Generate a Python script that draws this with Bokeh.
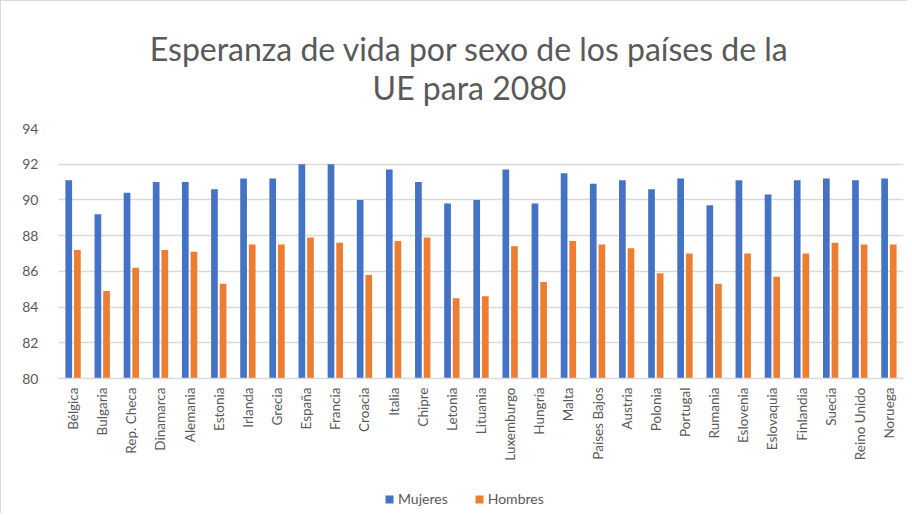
from bokeh.plotting import figure
from bokeh.layouts import column
from bokeh.models import (ColumnDataSource, FactorRange, Legend, LegendItem, Label,
                          SingleIntervalTicker)
from bokeh.transform import dodge
from bokeh.embed import file_html
from bokeh.resources import INLINE
from math import pi

paises = ["Bélgica", "Bulgaria", "Rep. Checa", "Dinamarca", "Alemania", "Estonia",
          "Irlanda", "Grecia", "España", "Francia", "Croacia", "Italia", "Chipre",
          "Letonia", "Lituania", "Luxemburgo", "Hungría", "Malta", "Países Bajos",
          "Austria", "Polonia", "Portugal", "Rumania", "Eslovenia", "Eslovaquia",
          "Finlandia", "Suecia", "Reino Unido", "Noruega"]
mujeres = [91.1, 89.2, 90.4, 91.0, 91.0, 90.6, 91.2, 91.2, 92.0, 92.0, 90.0, 91.7, 91.0,
           89.8, 90.0, 91.7, 89.8, 91.5, 90.9, 91.1, 90.6, 91.2, 89.7, 91.1, 90.3,
           91.1, 91.2, 91.1, 91.2]
hombres = [87.2, 84.9, 86.2, 87.2, 87.1, 85.3, 87.5, 87.5, 87.9, 87.6, 85.8, 87.7, 87.9,
           84.5, 84.6, 87.4, 85.4, 87.7, 87.5, 87.3, 85.9, 87.0, 85.3, 87.0, 85.7,
           87.0, 87.6, 87.5, 87.5]
titulo = ["Esperanza de vida por sexo de los países de la", "UE para 2080"]

BLUE = "#4472C4"
ORANGE = "#ED7D31"
GRID = "#d9d9d9"
TXT = "#595959"
FONT = "Lato"
W = 906

# ---- title strip (frame is aligned with the chart frame by the column) ----
pt = figure(width=W, height=110, x_range=(0, 845), y_range=(0, 110),
            output_backend="svg", toolbar_location=None,
            x_axis_type=None, y_axis_type=None,
            min_border=0, min_border_left=0, min_border_right=0,
            min_border_top=0, min_border_bottom=0)
pt.outline_line_color = None
pt.grid.visible = False
for t, yy in zip(titulo, [63, 24]):
    pt.add_layout(Label(x=411, y=yy, text=t, text_align="center",
                        text_baseline="middle", text_font=FONT,
                        text_font_size="32px", text_color=TXT))

# ---- main chart ----
src = ColumnDataSource(dict(pais=paises, mujeres=mujeres, hombres=hombres))

p = figure(width=W, height=372, x_range=FactorRange(*paises), y_range=(80, 94),
           output_backend="svg", toolbar_location=None,
           min_border_left=57, min_border_right=4, min_border_top=17,
           min_border_bottom=105)

r1 = p.vbar(x=dodge("pais", -0.148, range=p.x_range), top="mujeres", bottom=80,
            width=0.23, source=src, fill_color=BLUE, line_color=None)
r2 = p.vbar(x=dodge("pais", 0.148, range=p.x_range), top="hombres", bottom=80,
            width=0.23, source=src, fill_color=ORANGE, line_color=None)

p.outline_line_color = None
p.xgrid.grid_line_color = None
p.ygrid.grid_line_color = GRID
p.ygrid.grid_line_width = 1.3
p.yaxis.ticker = SingleIntervalTicker(interval=2)
p.yaxis.axis_line_color = None
p.yaxis.major_tick_line_color = None
p.yaxis.minor_tick_line_color = None
p.yaxis.major_tick_out = 0
p.yaxis.major_label_text_font = FONT
p.yaxis.major_label_text_font_size = "14px"
p.yaxis.major_label_text_color = TXT
p.yaxis.major_label_standoff = 16

p.xaxis.axis_line_color = GRID
p.xaxis.axis_line_width = 1.3
p.xaxis.major_tick_line_color = None
p.xaxis.minor_tick_line_color = None
p.xaxis.major_tick_out = 0
p.xaxis.major_label_orientation = pi / 2
p.xaxis.major_label_text_font = FONT
p.xaxis.major_label_text_font_size = "13.5px"
p.xaxis.major_label_text_color = TXT
p.xaxis.major_label_standoff = 9

# ---- legend strip (hidden proxy bars only feed the legend swatches) ----
pl = figure(width=W, height=30, x_range=FactorRange(*paises), y_range=(0, 1),
            output_backend="svg", toolbar_location=None,
            x_axis_type=None, y_axis_type=None,
            min_border=0, min_border_left=0, min_border_right=0,
            min_border_top=0, min_border_bottom=0)
pl.outline_line_color = None
pl.grid.visible = False
l1 = pl.vbar(x="pais", top="mujeres", bottom=80, width=0.23, source=src,
             fill_color=BLUE, line_color=None, visible=False)
l2 = pl.vbar(x="pais", top="hombres", bottom=80, width=0.23, source=src,
             fill_color=ORANGE, line_color=None, visible=False)
legend = Legend(items=[LegendItem(label="Mujeres", renderers=[l1]),
                       LegendItem(label="Hombres", renderers=[l2])],
                location=(326, 6), orientation="horizontal",
                label_text_font=FONT, label_text_font_size="14px",
                label_text_color=TXT, glyph_width=10, glyph_height=10,
                label_standoff=4, spacing=26, padding=0, margin=0,
                inactive_fill_alpha=0,
                border_line_color=None, background_fill_alpha=0)
pl.add_layout(legend, "center")

layout = column(pt, p, pl, spacing=0)
layout.styles = {"border-top": "1px solid #d9d9d9", "border-left": "1px solid #d9d9d9"}

open("out.html", "w").write(file_html(layout, INLINE))
